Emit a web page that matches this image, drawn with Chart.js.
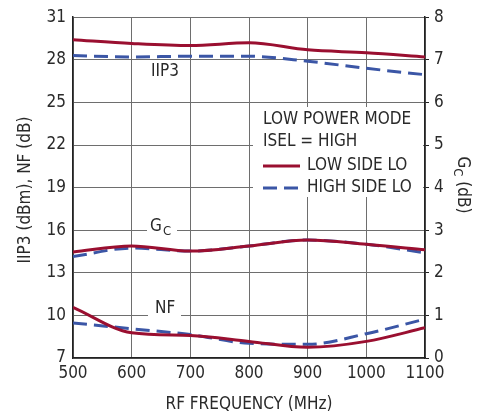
<!DOCTYPE html>
<html>
<head>
<meta charset="utf-8">
<script src="https://cdn.jsdelivr.net/npm/chart.js@4"></script>
<style>
  html, body { margin: 0; padding: 0; background: #fff; }
  #wrap { width: 490px; height: 420px; position: relative; }
</style>
</head>
<body>
<div id="wrap"><canvas id="chart"></canvas></div>
<script>
const freqs = [500, 600, 700, 800, 900, 1000, 1100];

// left axis: IIP3 (dBm), NF (dB)
const iip3Low = [29.42, 29.15, 29.0, 29.2, 28.7, 28.5, 28.2];
const iip3High = [28.3, 28.2, 28.25, 28.25, 27.9, 27.4, 26.95];
const nfLow = [10.57, 8.78, 8.58, 8.17, 7.75, 8.17, 9.13];
const nfHigh = [9.47, 9.06, 8.65, 8.03, 7.96, 8.71, 9.74];

// right axis: Gc (dB)
const gcLow = [2.49, 2.63, 2.51, 2.63, 2.77, 2.67, 2.54];
const gcHigh = [2.38, 2.58, 2.51, 2.63, 2.77, 2.67, 2.47];

const leftTicks = [7, 10, 13, 16, 19, 22, 25, 28, 31];
const rightTicks = [0, 1, 2, 3, 4, 5, 6, 7, 8];

const RED = '#9a0f30';
const BLUE = '#3b56a6';
const TEXT = '#2a2a2a';
const FONT = '"DejaVu Sans Condensed", "Liberation Sans", sans-serif';

const pts = (ys) => freqs.map((x, i) => ({ x: x, y: ys[i] }));

const lowStyle = { borderColor: RED, borderWidth: 3, pointRadius: 0, cubicInterpolationMode: 'monotone', fill: false };
const highStyle = { borderColor: BLUE, borderWidth: 3, borderDash: [14, 7], pointRadius: 0, cubicInterpolationMode: 'monotone', fill: false };

// labels, legend and axis titles drawn onto the canvas
const notes = {
    id: 'notes',
    beforeDatasetsDraw(chart) {
        const ctx = chart.ctx;
        const area = chart.chartArea;
        ctx.save();
        ctx.fillStyle = '#fff';
        // white boxes over the grid
        ctx.fillRect(147, 217, 30, 22);
        ctx.fillRect(148, 298, 33, 22);
        ctx.fillRect(253, 107, area.right - 255, 90);

        ctx.fillStyle = TEXT;
        ctx.textBaseline = 'middle';
        ctx.textAlign = 'left';
        ctx.font = '17px ' + FONT;
        ctx.fillText('IIP3', 151, 72);
        ctx.fillText('NF', 155, 309);
        ctx.fillText('G', 150, 227);
        ctx.font = '13px ' + FONT;
        ctx.fillText('C', 163, 232);

        ctx.font = '17px ' + FONT;
        ctx.fillText('LOW POWER MODE', 263, 120);
        ctx.fillText('ISEL = HIGH', 263, 142);
        ctx.fillText('LOW SIDE LO', 307, 166);
        ctx.fillText('HIGH SIDE LO', 307, 188);

        ctx.lineWidth = 3;
        ctx.strokeStyle = RED;
        ctx.beginPath(); ctx.moveTo(263, 166); ctx.lineTo(300, 166); ctx.stroke();
        ctx.strokeStyle = BLUE;
        ctx.setLineDash([14, 7]);
        ctx.beginPath(); ctx.moveTo(263, 188); ctx.lineTo(300, 188); ctx.stroke();
        ctx.setLineDash([]);

        // axis titles
        ctx.textAlign = 'center';
        ctx.font = '17px ' + FONT;
        ctx.fillText('RF FREQUENCY (MHz)', (area.left + area.right) / 2, 405);

        ctx.save();
        ctx.translate(26, 190);
        ctx.rotate(-Math.PI / 2);
        ctx.fillText('IIP3 (dBm), NF (dB)', 0, 0);
        ctx.restore();

        ctx.save();
        ctx.translate(462, 185);
        ctx.rotate(Math.PI / 2);
        ctx.textAlign = 'left';
        ctx.font = '17px ' + FONT;
        const gw = ctx.measureText('G').width;
        ctx.font = '13px ' + FONT;
        const cw = ctx.measureText('C').width;
        ctx.font = '17px ' + FONT;
        const rw = ctx.measureText(' (dB)').width;
        const sx = -(gw + cw + rw) / 2;
        ctx.fillText('G', sx, 0);
        ctx.font = '13px ' + FONT;
        ctx.fillText('C', sx + gw, 5);
        ctx.font = '17px ' + FONT;
        ctx.fillText(' (dB)', sx + gw + cw, 0);
        ctx.restore();

        ctx.restore();
    }
};

const ctx = document.getElementById('chart').getContext('2d');
new Chart(ctx, {
    type: 'line',
    data: {
        datasets: [
            Object.assign({ label: 'IIP3 low', data: pts(iip3Low), yAxisID: 'y' }, lowStyle),
            Object.assign({ label: 'IIP3 high', data: pts(iip3High), yAxisID: 'y' }, highStyle),
            Object.assign({ label: 'NF low', data: pts(nfLow), yAxisID: 'y' }, lowStyle),
            Object.assign({ label: 'NF high', data: pts(nfHigh), yAxisID: 'y' }, highStyle),
            Object.assign({ label: 'Gc low', data: pts(gcLow), yAxisID: 'y2' }, lowStyle),
            Object.assign({ label: 'Gc high', data: pts(gcHigh), yAxisID: 'y2' }, highStyle),
        ]
    },
    options: {
        responsive: true,
        maintainAspectRatio: false,
        animation: false,
        layout: { padding: { top: 8, left: 0, right: 0, bottom: 0 } },
        plugins: { legend: { display: false }, tooltip: { enabled: false } },
        scales: {
            x: {
                type: 'linear',
                min: 500, max: 1100,
                afterFit: (s) => { s.height = 62; },
                ticks: { stepSize: 100, color: TEXT, font: { family: FONT, size: 17 }, padding: 5, maxRotation: 0,
                         callback: (v) => String(v) },
                grid: { color: '#6e6e6e', lineWidth: 1, drawTicks: false },
                border: { color: '#222', width: 1.5 }
            },
            y: {
                position: 'left',
                min: 7, max: 31,
                afterFit: (s) => { s.width = 73; },
                afterBuildTicks: (s) => { s.ticks = leftTicks.map(v => ({ value: v })); },
                ticks: { color: TEXT, font: { family: FONT, size: 17 }, padding: 7 },
                grid: { color: '#6e6e6e', lineWidth: 1, drawTicks: false },
                border: { color: '#222', width: 1.5 }
            },
            y2: {
                position: 'right',
                min: 0, max: 8,
                afterFit: (s) => { s.width = 65; },
                afterBuildTicks: (s) => { s.ticks = rightTicks.map(v => ({ value: v })); },
                ticks: { color: TEXT, font: { family: FONT, size: 17 }, padding: 5 },
                grid: { drawOnChartArea: false, color: '#222', tickLength: 4 },
                border: { color: '#222', width: 1.5 }
            }
        }
    },
    plugins: [notes]
});
</script>
</body>
</html>
